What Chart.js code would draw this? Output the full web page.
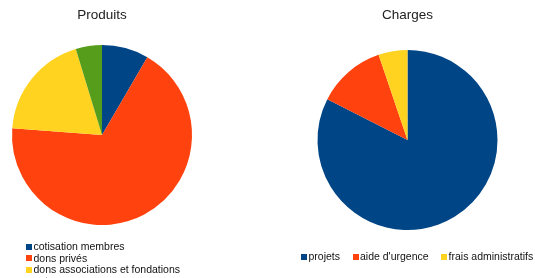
<!DOCTYPE html>
<html>
<head>
<meta charset="utf-8">
<script src="https://cdn.jsdelivr.net/npm/chart.js@4.4.1/dist/chart.umd.min.js"></script>
<style>
  html, body { margin: 0; padding: 0; background: #fff; }
  body { width: 535px; height: 278px; position: relative; overflow: hidden; font-family: "Liberation Sans", Arial, sans-serif; }
  .box { position: absolute; top: 0; height: 278px; }
  .legend { position: absolute; font-size: 10.5px; color: #111; white-space: nowrap; }
  .legend .item { display: flex; align-items: center; height: 11.5px; line-height: 11.5px; }
  .legend .sq { display: inline-block; width: 6px; height: 6px; margin-right: 1.5px; }
  #legendCharges { display: flex; }
  #legendCharges .item { margin-right: 12.5px; }
</style>
</head>
<body>
<div class="box" style="left:0;width:267px"><canvas id="produitsChart"></canvas></div>
<div class="box" style="left:267px;width:268px"><canvas id="chargesChart"></canvas></div>
<div class="legend" id="legendProduits" style="left:26px;top:241px"></div>
<div class="legend" id="legendCharges" style="left:301px;top:251px"></div>
<script>
const produitsLabels = ['cotisation membres', 'dons privés', 'dons associations et fondations', 'autres'];
const produitsValues = [8.4, 67.8, 19.1, 4.7];
const produitsColors = ['#004586', '#ff420e', '#ffd320', '#579d1c'];

const chargesLabels = ['projets', 'aide d\'urgence', 'frais administratifs'];
const chargesValues = [82.5, 12.3, 5.2];
const chargesColors = ['#004586', '#ff420e', '#ffd320'];

function makePie(id, title, labels, values, colors, padding, titleBottom) {
  new Chart(document.getElementById(id), {
    type: 'pie',
    data: {
      labels: labels,
      datasets: [{
        data: values,
        backgroundColor: colors,
        borderWidth: 0
      }]
    },
    options: {
      responsive: true,
      maintainAspectRatio: false,
      animation: false,
      layout: { padding: padding },
      plugins: {
        legend: { display: false },
        tooltip: { enabled: false },
        title: {
          display: true,
          text: title,
          color: '#222',
          font: { family: '"Liberation Sans", Arial, sans-serif', size: 13.5, weight: 'normal' },
          padding: { top: 7, bottom: titleBottom }
        }
      }
    }
  });
}

function makeLegend(id, labels, colors) {
  const el = document.getElementById(id);
  labels.forEach((l, i) => {
    const item = document.createElement('div');
    item.className = 'item';
    item.innerHTML = `<span class="sq" style="background:${colors[i]}"></span><span>${l}</span>`;
    el.appendChild(item);
  });
}

makePie('produitsChart', 'Produits', produitsLabels, produitsValues, produitsColors,
  { left: 12, right: 75, top: 0, bottom: 53 }, 21.8);
makePie('chargesChart', 'Charges', chargesLabels, chargesValues, chargesColors,
  { left: 50.5, right: 37.5, top: 0, bottom: 48 }, 26.8);

makeLegend('legendProduits', produitsLabels, produitsColors);
makeLegend('legendCharges', chargesLabels, chargesColors);
</script>
</body>
</html>
